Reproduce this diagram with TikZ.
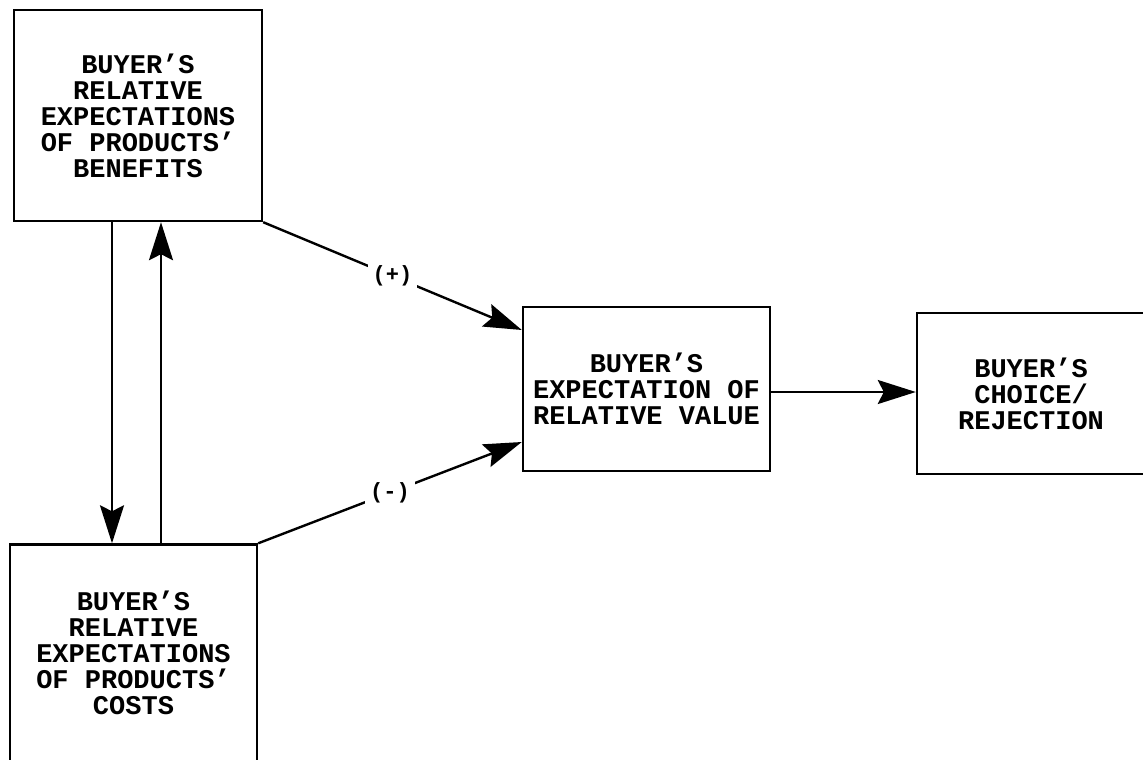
\documentclass[tikz,border=0pt]{standalone}
\usepackage{fontspec}
\usetikzlibrary{arrows.meta}
\newfontfamily\typefont{Liberation Mono}

\begin{document}
\begin{tikzpicture}[
      x=1pt, y=-1pt,
      box/.style={draw, line width=2.4pt, align=center, inner sep=0pt,
                  font=\typefont\bfseries\fontsize{27}{26}\selectfont},
      arr/.style={-{Stealth[length=38pt,width=24pt,inset=6pt]}, line width=2.4pt},
      sign/.style={fill=white, inner sep=5pt,
                   font=\typefont\bfseries\fontsize{22}{22}\selectfont},
    ]
      \fill[white] (0,0) rectangle (1143,760);
      \useasboundingbox (0,0) rectangle (1143,760);
      \clip (0,0) rectangle (1143,760);

      \node[box, minimum width=248pt, minimum height=211pt] (benefits) at (138,115.5)
        {BUYER’S\\RELATIVE\\EXPECTATIONS\\OF PRODUCTS’\\BENEFITS};
      \node[box, minimum width=247pt, minimum height=217pt] (costs) at (133.5,653)
        {BUYER’S\\RELATIVE\\EXPECTATIONS\\OF PRODUCTS’\\COSTS};
      \node[box, minimum width=247pt, minimum height=164pt] (value) at (646.5,389)
        {BUYER’S\\EXPECTATION OF\\RELATIVE VALUE};
      \node[box, minimum width=228pt, minimum height=161pt] (choice) at (1031,393.5)
        {BUYER’S\\CHOICE/\\REJECTION};

      \draw[arr] ([xshift=-26pt]benefits.south) -- ([xshift=-26pt]benefits.south |- costs.north);
      \draw[arr] ([xshift=23pt]benefits.south |- costs.north) -- ([xshift=23pt]benefits.south);

      \draw[arr] (benefits.south east) -- node[sign] {(+)} ([yshift=59pt]value.west);
      \draw[arr] (costs.north east) -- node[sign] {(-)} ([yshift=-53pt]value.west);

      \draw[arr] ([yshift=-3pt]value.east) -- ([yshift=-3pt]value.east -| choice.west);
    \end{tikzpicture}
\end{document}
